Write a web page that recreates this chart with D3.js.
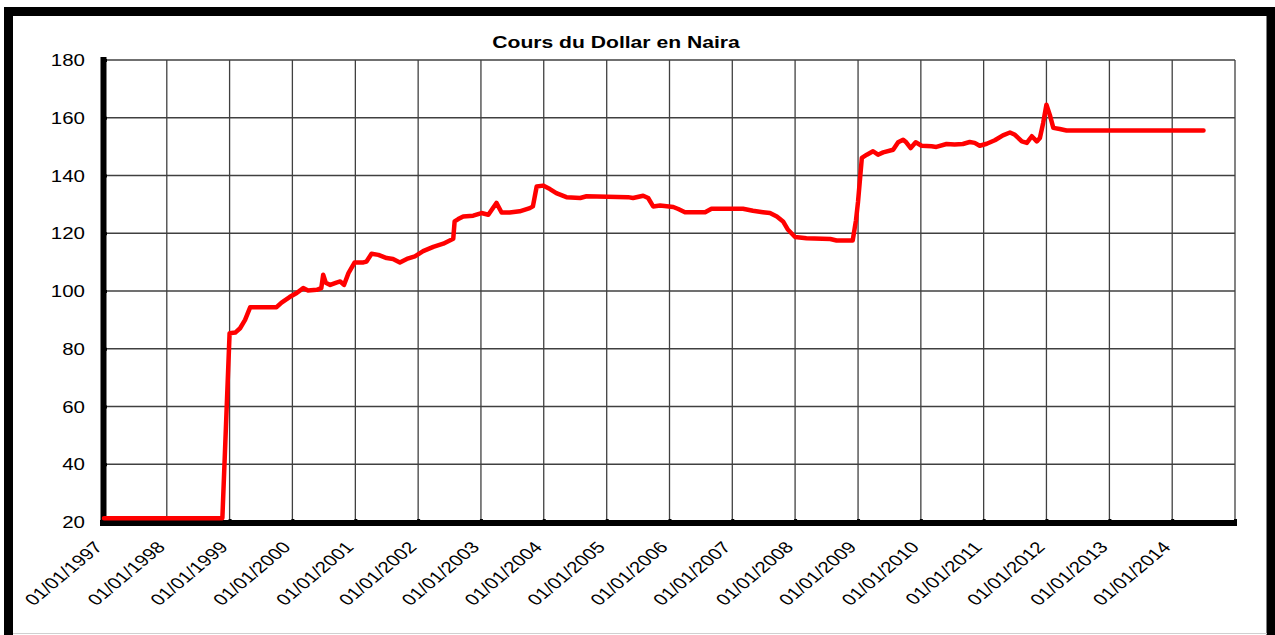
<!DOCTYPE html>
<html>
<head>
<meta charset="utf-8">
<script src="https://cdn.jsdelivr.net/npm/d3@7"></script>
<style>
body { margin: 0; background: #fff; }
text { font-family: "Liberation Sans", Arial, sans-serif; fill: #000; }
</style>
</head>
<body>
<svg id="chart" width="1275" height="635"></svg>
<script>
var chartTitle = "Cours du Dollar en Naira";

// date of each reading, and the naira rate for one dollar
var dates = [
    "1997-01-01", "1998-11-20", "1999-01-01", "1999-02-03", "1999-03-03", "1999-04-01",
    "1999-05-01", "1999-10-01", "1999-10-30", "1999-12-16", "2000-01-26", "2000-03-04",
    "2000-04-01", "2000-05-22", "2000-06-17", "2000-06-28", "2000-07-13", "2000-08-08",
    "2000-09-13", "2000-10-05", "2000-10-27", "2000-11-22", "2000-12-28", "2001-02-17",
    "2001-03-07", "2001-04-05", "2001-05-15", "2001-07-02", "2001-08-08", "2001-09-17",
    "2001-10-27", "2001-12-13", "2002-01-30", "2002-03-30", "2002-05-27", "2002-07-24",
    "2002-08-01", "2002-08-22", "2002-09-20", "2002-11-17", "2003-01-04", "2003-02-13",
    "2003-04-01", "2003-05-01", "2003-06-17", "2003-08-14", "2003-10-12", "2003-10-30",
    "2003-11-21", "2003-12-28", "2004-02-06", "2004-03-14", "2004-05-12", "2004-07-31",
    "2004-09-06", "2005-05-05", "2005-06-03", "2005-08-01", "2005-08-30", "2005-09-28",
    "2005-11-07", "2006-01-23", "2006-02-21", "2006-04-01", "2006-07-27", "2006-09-02",
    "2007-03-04", "2007-05-01", "2007-06-28", "2007-08-08", "2007-09-17", "2007-10-23",
    "2007-11-21", "2008-01-01", "2008-03-07", "2008-07-24", "2008-08-29", "2008-12-01",
    "2008-12-20", "2009-01-01", "2009-01-23", "2009-02-21", "2009-03-29", "2009-04-27",
    "2009-05-27", "2009-07-24", "2009-08-22", "2009-09-20", "2009-10-08", "2009-11-03",
    "2009-12-02", "2010-01-05", "2010-03-04", "2010-04-01", "2010-05-30", "2010-07-16",
    "2010-09-02", "2010-10-12", "2010-11-10", "2010-12-09", "2011-01-19", "2011-03-07",
    "2011-04-23", "2011-06-03", "2011-07-02", "2011-08-11", "2011-09-09", "2011-10-08",
    "2011-11-06", "2011-11-24", "2011-12-13", "2012-01-01", "2012-01-23", "2012-02-10",
    "2012-03-18", "2012-04-27", "2014-07-02"
];
var rates = [
    21.3, 21.3, 85.4, 85.6, 87.1, 90.0,
    94.4, 94.4, 96.0, 97.9, 99.3, 101.0,
    100.2, 100.4, 101.0, 105.6, 102.9, 102.1,
    102.9, 103.3, 102.1, 106.2, 109.9, 109.9,
    110.2, 112.9, 112.5, 111.4, 111.1, 109.9,
    111.1, 112.0, 113.8, 115.3, 116.4, 118.1,
    124.1, 124.9, 125.8, 126.1, 127.0, 126.4,
    130.5, 127.2, 127.2, 127.6, 128.7, 129.3,
    136.2, 136.5, 135.3, 133.9, 132.5, 132.2,
    132.8, 132.5, 132.2, 133.0, 132.2, 129.3,
    129.6, 129.1, 128.4, 127.3, 127.3, 128.5,
    128.5, 127.8, 127.3, 127.0, 125.8, 124.1,
    121.2, 118.7, 118.3, 118.0, 117.5, 117.5,
    124.5, 131.0, 146.1, 147.2, 148.4, 147.2,
    148.0, 148.9, 151.5, 152.4, 151.5, 149.5,
    151.5, 150.3, 150.1, 149.9, 150.9, 150.7,
    150.9, 151.6, 151.3, 150.3, 151.0, 152.2,
    153.9, 154.9, 154.1, 151.8, 151.3, 153.6,
    151.8, 153.0, 158.2, 164.5, 160.5, 156.5,
    156.1, 155.6, 155.6
];

var yTicks = [20, 40, 60, 80, 100, 120, 140, 160, 180];
var xTickYears = [1997, 1998, 1999, 2000, 2001, 2002, 2003, 2004, 2005,
                  2006, 2007, 2008, 2009, 2010, 2011, 2012, 2013, 2014];
var xEndYear = 2015;

var svg = d3.select("#chart"),
    width = +svg.attr("width"),
    height = +svg.attr("height");

// the original picture is stretched sideways, text too
var stretch = 1.28;

var plotLeft = 104, plotRight = 1235, plotTop = 60, plotBottom = 522;

var parseDate = d3.timeParse("%Y-%m-%d");
var data = dates.map(function(d, i) { return { date: parseDate(d), value: rates[i] }; });

var x = d3.scaleTime()
    .domain([new Date(xTickYears[0], 0, 1), new Date(xEndYear, 0, 1)])
    .range([plotLeft, plotRight]);

var y = d3.scaleLinear()
    .domain([yTicks[0], yTicks[yTicks.length - 1]])
    .range([plotBottom, plotTop]);

// outer frame, its bottom edge falls outside the picture
svg.append("rect")
    .attr("x", 8.5).attr("y", 11.5)
    .attr("width", 1262.5).attr("height", 700)
    .style("fill", "none")
    .style("stroke", "#000")
    .style("stroke-width", 9);

svg.append("line")
    .attr("x1", 13).attr("x2", 1267)
    .attr("y1", 633.5).attr("y2", 633.5)
    .style("stroke", "#d0d0d0");

// grid
var grid = svg.append("g").attr("class", "grid");
grid.selectAll("line.h")
    .data(yTicks.slice(1))
    .enter().append("line")
    .attr("class", "h")
    .attr("x1", plotLeft).attr("x2", plotRight)
    .attr("y1", function(d) { return y(d); })
    .attr("y2", function(d) { return y(d); });

grid.selectAll("line.v")
    .data(xTickYears.slice(1).concat([xEndYear]))
    .enter().append("line")
    .attr("class", "v")
    .attr("x1", function(d) { return x(new Date(d, 0, 1)); })
    .attr("x2", function(d) { return x(new Date(d, 0, 1)); })
    .attr("y1", plotTop).attr("y2", plotBottom);

grid.selectAll("line")
    .style("stroke", "#404040")
    .style("stroke-width", 1.3);

// title
svg.append("text")
    .attr("transform", "translate(616,48) scale(" + stretch + ",1)")
    .attr("text-anchor", "middle")
    .style("font-size", "16.5px")
    .style("font-weight", "bold")
    .text(chartTitle);

// y axis
var yAxis = svg.append("g")
    .attr("transform", "translate(" + plotLeft + ",0)")
    .call(d3.axisLeft(y).tickValues(yTicks).tickSize(-3).tickPadding(0));

yAxis.select(".domain")
    .attr("d", "M-0.5," + (plotTop - 3) + "V" + (plotBottom + 4))
    .style("stroke", "#000")
    .style("stroke-width", 6);
yAxis.selectAll(".tick line").style("stroke", "#000").style("stroke-width", 3);
yAxis.selectAll(".tick text")
    .attr("x", null)
    .attr("dy", "0.35em")
    .attr("transform", "translate(-19,0) scale(" + stretch + ",1)")
    .style("font-size", "16px");

// x axis
var xAxis = svg.append("g")
    .attr("transform", "translate(0," + (plotBottom + 1) + ")")
    .call(d3.axisBottom(x)
        .tickValues(xTickYears.map(function(d) { return new Date(d, 0, 1); }).concat([new Date(xEndYear, 0, 1)]))
        .tickFormat(function(d) { return d.getFullYear() < xEndYear ? d3.timeFormat("%d/%m/%Y")(d) : ""; })
        .tickSize(-4));

xAxis.select(".domain")
    .attr("d", "M" + (plotLeft - 4) + ",0H" + (plotRight + 2))
    .style("stroke", "#000")
    .style("stroke-width", 6);
xAxis.selectAll(".tick line").style("stroke", "#000").style("stroke-width", 3);
xAxis.selectAll(".tick text")
    .attr("y", null)
    .attr("dy", "0")
    .attr("text-anchor", "end")
    .attr("transform", "translate(-1,25) scale(" + stretch + ",1) rotate(-47)")
    .style("font-size", "16px");

// the rate
var line = d3.line()
    .x(function(d) { return x(d.date); })
    .y(function(d) { return y(d.value); });

svg.append("path")
    .datum(data)
    .attr("d", line)
    .style("fill", "none")
    .style("stroke", "#ff0000")
    .style("stroke-width", 4.5)
    .style("stroke-linejoin", "round")
    .style("stroke-linecap", "round");
</script>
</body>
</html>
